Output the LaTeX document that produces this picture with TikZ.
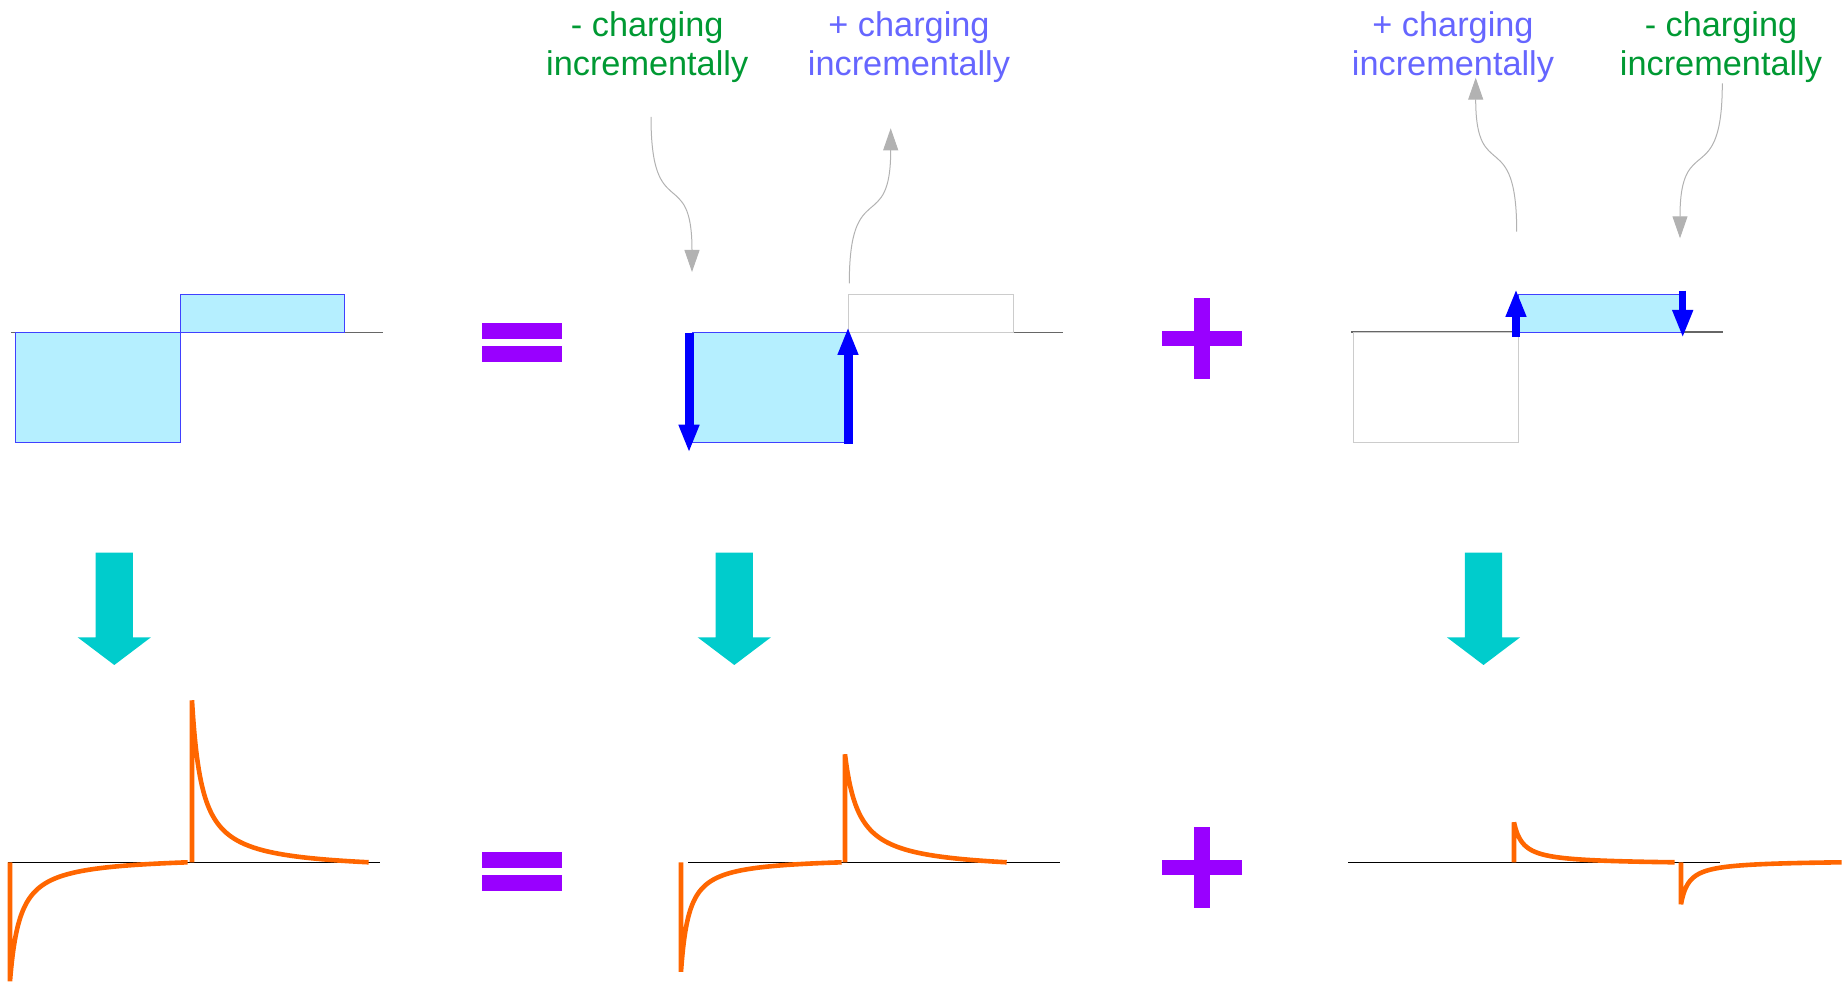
\documentclass[tikz,border=0pt]{standalone}
\usepackage{fontspec}
\setmainfont{Liberation Sans}
\usetikzlibrary{arrows.meta}

\definecolor{boxfill}{RGB}{181,239,255}
\definecolor{boxline}{RGB}{64,64,255}
\definecolor{ghost}{RGB}{204,204,204}
\definecolor{axisgray}{RGB}{102,102,102}
\definecolor{pulsecol}{RGB}{255,102,0}
\definecolor{opcol}{RGB}{153,0,255}
\definecolor{flowcol}{RGB}{0,204,204}
\definecolor{greentext}{RGB}{0,153,51}
\definecolor{bluetext}{RGB}{102,102,255}
\definecolor{pointer}{RGB}{178,178,178}
\definecolor{chargeblue}{RGB}{0,0,255}

% decaying current spike: start x, axis y, height, length, decay scale
\newcommand\orangepulse[5]{%
  \pgfmathsetmacro\pc{1/(1+#4/#5)}%
  \draw[pulse] (#1,#2) -- plot[variable=\t,domain=0:1,samples=140]
    ({#1+#4*\t*\t},{#2-(#3)*(1/(1+#4*\t*\t/#5)-\pc)/(1-\pc)});%
}

\begin{document}
\begin{tikzpicture}[x=0.5pt,y=-0.5pt,
  charged/.style={fill=boxfill,draw=boxline,line width=0.5pt},
  emptybox/.style={draw=ghost,line width=0.5pt},
  topaxis/.style={draw=axisgray,line width=0.8pt},
  botaxis/.style={draw=black,line width=0.6pt},
  pulse/.style={draw=pulsecol,line width=2.3pt,line join=miter},
  opbar/.style={fill=opcol},
  flow/.style={fill=flowcol},
  label/.style={font=\fontsize{17.15pt}{19.5pt}\selectfont,align=center,anchor=base,inner sep=0pt},
  chargearrow/.style={draw=chargeblue,line width=4.5pt,-{Triangle[length=14pt,width=9.5pt]}},
  smallcharge/.style={draw=chargeblue,line width=3.6pt,-{Triangle[length=14pt,width=9.5pt]}},
  pointerline/.style={draw=pointer,line width=0.5pt,-{Triangle[length=11pt,width=7.5pt]}}]

\useasboundingbox (0,0) rectangle (1848,983);

% ---------- top row: charge distributions ----------
\draw[topaxis] (11,332.7) -- (383,332.7);
\draw[charged] (15.3,332.7) rectangle (180,443);
\draw[charged] (180,295) rectangle (344.7,332.7);

\draw[topaxis] (692,332.7) -- (1063,332.7);
\draw[charged] (692,332.7) rectangle (848,442.7);
\draw[emptybox] (848,295) rectangle (1013,332.7);

\draw[topaxis] (1351,332.3) -- (1723,332.3);
\draw[emptybox] (1353,332.3) rectangle (1518,442.7);
\draw[charged] (1518,295) rectangle (1682,332.3);

% incremental charging arrows
\coordinate (m1s) at (689,332.7);   \coordinate (m1e) at (689,452.7);
\coordinate (m2s) at (848,444);     \coordinate (m2e) at (848,327);
\coordinate (r1s) at (1516,336.7);  \coordinate (r1e) at (1516,289);
\coordinate (r2s) at (1682.7,290.7); \coordinate (r2e) at (1682.7,338);
\draw[chargearrow] (m1s) -- (m1e);
\draw[chargearrow] (m2s) -- (m2e);
\draw[smallcharge] (r1s) -- (r1e);
\draw[smallcharge] (r2s) -- (r2e);

% ---------- labels (anchored on the baseline of the second line) ----------
\node[label,text=greentext] (lblA) at (647.2,75.5) {- charging\\incrementally};
\node[label,text=bluetext]  (lblB) at (909,75.5)   {+ charging\\incrementally};
\node[label,text=bluetext]  (lblC) at (1453,75.5)  {+ charging\\incrementally};
\node[label,text=greentext] (lblD) at (1721,75.5)  {- charging\\incrementally};

\coordinate (pA1) at (651,117);     \coordinate (pA2) at (692,272);
\coordinate (pB1) at (849.3,283.3); \coordinate (pB2) at (890.7,128.3);
\coordinate (pC1) at (1516.7,231.7); \coordinate (pC2) at (1475.7,77.7);
\coordinate (pD1) at (1722.3,83.3); \coordinate (pD2) at (1680,238.3);
\draw[pointerline] (pA1) .. controls (651,225.5) and (692,163.5) .. (pA2);
\draw[pointerline] (pB1) .. controls (849.3,175) and (890.7,236.5) .. (pB2);
\draw[pointerline] (pC1) .. controls (1516.7,123.9) and (1475.7,185.5) .. (pC2);
\draw[pointerline] (pD1) .. controls (1722.3,191.8) and (1680,129.8) .. (pD2);

% ---------- operators ----------
\foreach \dy in {0,529}{
  \fill[opbar] (482,322.7+\dy) rectangle (561.7,338.7+\dy);
  \fill[opbar] (482,345.7+\dy) rectangle (561.7,361.7+\dy);
  \fill[opbar] (1194,298+\dy) rectangle (1210,378.7+\dy);
  \fill[opbar] (1162.3,330.7+\dy) rectangle (1242.3,346.3+\dy);
}

% ---------- downward flow arrows ----------
\foreach \cx in {114.3,734.3,1483.5}{
  \fill[flow] (\cx-18.65,552.7) -- (\cx+18.65,552.7) -- (\cx+18.65,637.3)
    -- (\cx+36.65,637.3) -- (\cx,665) -- (\cx-36.65,637.3)
    -- (\cx-18.65,637.3) -- cycle;
}

% ---------- bottom row: current responses ----------
\draw[botaxis] (8,862.3) -- (380,862.3);
\draw[botaxis] (688.3,862.3) -- (1060,862.3);
\draw[botaxis] (1348.3,862.3) -- (1720,862.3);

\orangepulse{10}{862.3}{-119}{178}{10}
\orangepulse{192}{862.3}{162}{177}{10}
\orangepulse{681}{862.3}{-109.5}{161}{8}
\orangepulse{845}{862.3}{108}{162}{14}
\orangepulse{1514}{862.3}{40}{161}{9}
\orangepulse{1681}{862.3}{-42}{161}{8}

\end{tikzpicture}
\end{document}
